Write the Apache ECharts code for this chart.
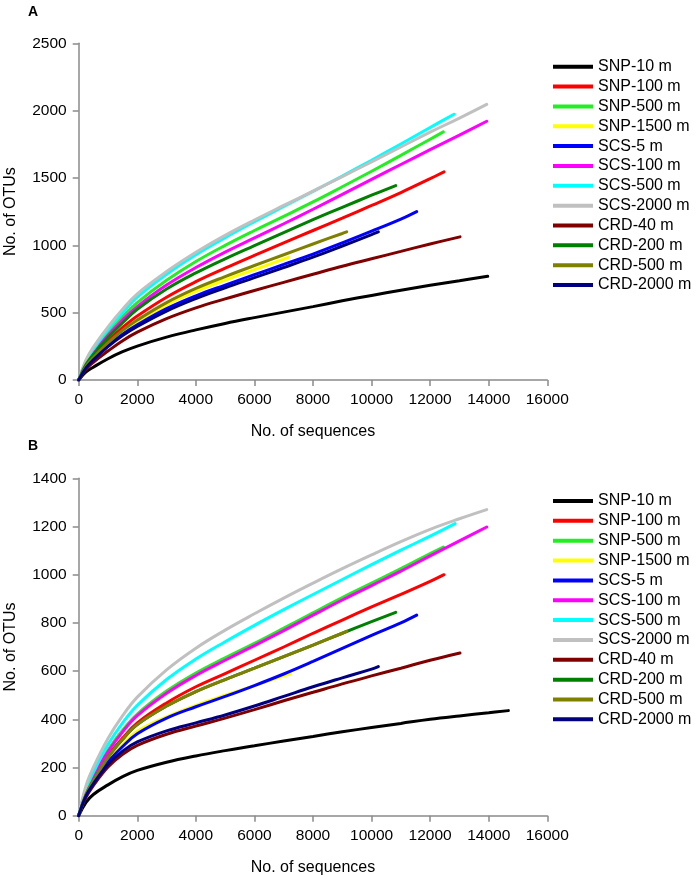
<!DOCTYPE html>
<html><head><meta charset="utf-8">
<script src="https://cdn.jsdelivr.net/npm/echarts@6/dist/echarts.min.js"></script>
<style>html,body{margin:0;padding:0;background:#fff}#c{width:696px;height:880px}</style>
</head><body><div id="c"></div>
<script>
// Legend / series names and colours
const seriesNames = ['SNP-10 m','SNP-100 m','SNP-500 m','SNP-1500 m','SCS-5 m','SCS-100 m','SCS-500 m','SCS-2000 m','CRD-40 m','CRD-200 m','CRD-500 m','CRD-2000 m'];
const seriesColors = ['#000000','#ff0000','#22ee22','#ffff00','#0000ff','#ff00ff','#00ffff','#c0c0c0','#800000','#008000','#808000','#000080'];

// Axis ticks
const xTicks = [0,2000,4000,6000,8000,10000,12000,14000,16000];
const yTicksA = [0,500,1000,1500,2000,2500];
const yTicksB = [0,200,400,600,800,1000,1200,1400];

// Panel A: [No. of sequences, No. of OTUs]
const A_SNP10   = [[0,0],[250,60],[500,95],[1000,158],[1500,210],[2000,252],[3000,318],[4000,372],[5000,420],[6000,463],[7000,504],[8000,545],[9000,588],[10000,628],[11000,667],[12000,703],[13000,737],[13965,770]];
const A_SNP100  = [[0,0],[250,105],[500,175],[1000,290],[1500,390],[2000,475],[3000,615],[4000,730],[5000,830],[6000,925],[7000,1018],[8000,1110],[9000,1202],[10000,1296],[11000,1392],[12000,1495],[12473,1545]];
const A_SNP500  = [[0,0],[250,130],[500,215],[1000,350],[1500,470],[2000,575],[3000,740],[4000,880],[5000,1000],[6000,1110],[7000,1215],[8000,1322],[9000,1435],[10000,1550],[11000,1668],[12000,1788],[12450,1842]];
const A_SNP1500 = [[0,0],[250,98],[500,162],[1000,268],[1500,358],[2000,432],[3000,558],[4000,658],[5000,742],[6000,820],[7000,898],[7158,910]];
const A_SCS5    = [[0,0],[250,95],[500,155],[1000,255],[1500,340],[2000,410],[3000,530],[4000,625],[5000,705],[6000,782],[7000,858],[8000,935],[9000,1018],[10000,1105],[11000,1195],[11540,1250]];
const A_SCS100  = [[0,0],[250,120],[500,200],[1000,330],[1500,445],[2000,545],[3000,705],[4000,835],[5000,950],[6000,1055],[7000,1160],[8000,1268],[9000,1378],[10000,1490],[11000,1600],[12000,1710],[13000,1818],[13931,1921]];
const A_SCS500  = [[0,0],[250,140],[500,230],[1000,375],[1500,500],[2000,615],[3000,785],[4000,930],[5000,1057],[6000,1175],[7000,1288],[8000,1400],[9000,1515],[10000,1632],[11000,1752],[12000,1875],[12814,1973]];
const A_SCS2000 = [[0,0],[250,150],[500,245],[1000,395],[1500,525],[2000,640],[3000,805],[4000,948],[5000,1074],[6000,1188],[7000,1296],[8000,1402],[9000,1510],[10000,1620],[11000,1730],[12000,1840],[13000,1945],[13931,2047]];
const A_CRD40   = [[0,0],[250,80],[500,132],[1000,215],[1500,292],[2000,355],[3000,455],[4000,535],[5000,602],[6000,665],[7000,725],[8000,785],[9000,845],[10000,900],[11000,955],[12000,1010],[13019,1063]];
const A_CRD200  = [[0,0],[250,115],[500,190],[1000,315],[1500,425],[2000,525],[3000,675],[4000,795],[5000,900],[6000,998],[7000,1095],[8000,1190],[9000,1282],[10000,1372],[10824,1444]];
const A_CRD500  = [[0,0],[250,100],[500,165],[1000,275],[1500,368],[2000,445],[3000,575],[4000,680],[5000,768],[6000,850],[7000,930],[8000,1010],[9000,1088],[9150,1100]];
const A_CRD2000 = [[0,0],[250,90],[500,150],[1000,248],[1500,330],[2000,398],[3000,512],[4000,605],[5000,685],[6000,760],[7000,835],[8000,912],[9000,995],[10000,1080],[10230,1100]];

// Panel B: [No. of sequences, No. of OTUs]
const B_SNP10   = [[0,0],[250,55],[500,88],[1000,128],[1500,162],[2000,188],[3000,222],[4000,248],[5000,270],[6000,290],[7000,310],[8000,329],[9000,348],[10000,366],[11000,383],[12000,400],[13000,414],[14000,427],[14670,436]];
const B_SNP100  = [[0,0],[250,90],[500,150],[1000,248],[1500,322],[2000,385],[3000,468],[4000,535],[5000,590],[6000,645],[7000,700],[8000,757],[9000,812],[10000,866],[11000,918],[12000,972],[12473,1000]];
const B_SNP500  = [[0,0],[250,100],[500,165],[1000,272],[1500,355],[2000,422],[3000,517],[4000,592],[5000,655],[6000,715],[7000,778],[8000,842],[9000,905],[10000,965],[11000,1025],[12000,1088],[12450,1115]];
const B_SNP1500 = [[0,0],[250,85],[500,140],[1000,228],[1500,295],[2000,350],[3000,410],[4000,458],[5000,500],[6000,540],[7000,580],[7215,589]];
const B_SCS5    = [[0,0],[250,85],[500,138],[1000,222],[1500,287],[2000,340],[3000,405],[4000,452],[5000,495],[6000,540],[7000,588],[8000,640],[9000,694],[10000,748],[11000,800],[11540,832]];
const B_SCS100  = [[0,0],[250,95],[500,160],[1000,265],[1500,348],[2000,415],[3000,508],[4000,582],[5000,645],[6000,706],[7000,768],[8000,832],[9000,895],[10000,955],[11000,1015],[12000,1078],[13000,1140],[13931,1198]];
const B_SCS500  = [[0,0],[250,112],[500,180],[1000,295],[1500,385],[2000,458],[3000,565],[4000,650],[5000,722],[6000,790],[7000,855],[8000,918],[9000,980],[10000,1042],[11000,1102],[12000,1160],[12850,1212]];
const B_SCS2000 = [[0,0],[250,125],[500,200],[1000,320],[1500,415],[2000,492],[3000,605],[4000,695],[5000,770],[6000,838],[7000,903],[8000,965],[9000,1025],[10000,1082],[11000,1137],[12000,1188],[13000,1232],[13931,1270]];
const B_CRD40   = [[0,0],[250,76],[500,125],[1000,202],[1500,255],[2000,292],[3000,338],[4000,372],[5000,405],[6000,440],[7000,477],[8000,512],[9000,547],[10000,580],[11000,612],[12000,645],[13019,675]];
const B_CRD200  = [[0,0],[250,88],[500,145],[1000,242],[1500,317],[2000,378],[3000,455],[4000,515],[5000,565],[6000,612],[7000,660],[8000,708],[9000,757],[10000,805],[10824,844]];
const B_CRD500  = [[0,0],[250,88],[500,145],[1000,242],[1500,317],[2000,378],[3000,455],[4000,515],[5000,565],[6000,612],[7000,660],[8000,708],[9000,757],[9150,765]];
const B_CRD2000 = [[0,0],[250,82],[500,132],[1000,212],[1500,268],[2000,306],[3000,352],[4000,385],[5000,418],[6000,455],[7000,495],[8000,535],[9000,572],[10000,608],[10230,619]];

const panelA = [A_SNP10,A_SNP100,A_SNP500,A_SNP1500,A_SCS5,A_SCS100,A_SCS500,A_SCS2000,A_CRD40,A_CRD200,A_CRD500,A_CRD2000];
const panelB = [B_SNP10,B_SNP100,B_SNP500,B_SNP1500,B_SCS5,B_SCS100,B_SCS500,B_SCS2000,B_CRD40,B_CRD200,B_CRD500,B_CRD2000];

const FONT = 'Liberation Sans, Arial, sans-serif';
const axisGray = '#8a8a8a';

function xAxisCfg(gridIndex){
  return {
    type:'value', gridIndex, min:xTicks[0], max:xTicks[xTicks.length-1], interval:xTicks[1]-xTicks[0],
    name:'No. of sequences', nameLocation:'middle', nameGap:44, nameMoveOverlap:false,
    nameTextStyle:{fontFamily:FONT,fontSize:16,color:'#000'},
    axisLine:{show:true,onZero:false,lineStyle:{color:axisGray,width:1.5}},
    axisTick:{show:true,length:6,lineStyle:{color:axisGray,width:1.5}},
    axisLabel:{fontFamily:FONT,fontSize:15.5,color:'#000',margin:12,formatter:v=>String(v)},
    splitLine:{show:false}
  };
}
function yAxisCfg(gridIndex, ticks){
  return {
    type:'value', gridIndex, min:ticks[0], max:ticks[ticks.length-1], interval:ticks[1]-ticks[0],
    name:'No. of OTUs', nameLocation:'middle', nameGap:60, nameRotate:90, nameMoveOverlap:false,
    nameTextStyle:{fontFamily:FONT,fontSize:16,color:'#000'},
    axisLine:{show:true,onZero:false,lineStyle:{color:axisGray,width:1.5}},
    axisTick:{show:true,length:6,lineStyle:{color:axisGray,width:1.5}},
    axisLabel:{fontFamily:FONT,fontSize:15.5,color:'#000',margin:12,formatter:v=>String(v)},
    splitLine:{show:false}
  };
}
function legendCfg(top){
  return {
    data:seriesNames, orient:'vertical', left:553, top:top, padding:0,
    icon:'rect', itemWidth:40, itemHeight:4, itemGap:3.85,
    textStyle:{fontFamily:FONT,fontSize:16,color:'#000',lineHeight:16},
    selectedMode:false
  };
}

const series = [];
[panelA, panelB].forEach((panel, pi) => {
  panel.forEach((data, i) => {
    series.push({
      name:seriesNames[i], type:'line', xAxisIndex:pi, yAxisIndex:pi,
      data:data, showSymbol:false, symbol:'none', smooth:0.4,
      lineStyle:{color:seriesColors[i], width:3, cap:'round'},
      itemStyle:{color:seriesColors[i]},
      animation:false
    });
  });
});

const chart = echarts.init(document.getElementById('c'), null, {renderer:'canvas'});
chart.setOption({
  backgroundColor:'#ffffff',
  animation:false,
  grid:[
    {left:78.7, top:43.3, width:468.6, height:336.7, containLabel:false, outerBoundsMode:'none'},
    {left:78.7, top:478.3, width:468.6, height:337.4, containLabel:false, outerBoundsMode:'none'}
  ],
  xAxis:[xAxisCfg(0), xAxisCfg(1)],
  yAxis:[yAxisCfg(0, yTicksA), yAxisCfg(1, yTicksB)],
  legend:[legendCfg(58.7), legendCfg(493)],
  graphic:[
    {type:'text', left:28, top:5, style:{text:'A', font:'bold 14px '+FONT, fill:'#000'}},
    {type:'text', left:28, top:439, style:{text:'B', font:'bold 14px '+FONT, fill:'#000'}}
  ],
  series:series
});
</script>
</body></html>
